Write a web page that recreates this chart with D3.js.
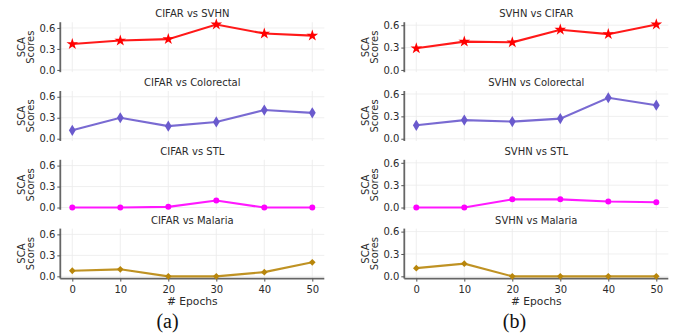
<!DOCTYPE html>
<html>
<head>
<meta charset="utf-8">
<script src="https://cdn.jsdelivr.net/npm/d3@7"></script>
<style>
  html, body { margin: 0; padding: 0; background: #fff; }
  svg { display: block; font-family: "DejaVu Sans", sans-serif; }
</style>
</head>
<body>
<svg id="chart" width="683" height="335"></svg>
<script>
// data
const epochs = [0, 10, 20, 30, 40, 50];
const yTicks = [0, 0.3, 0.6];

const cifarTitles = ["CIFAR vs SVHN", "CIFAR vs Colorectal", "CIFAR vs STL", "CIFAR vs Malaria"];
const svhnTitles = ["SVHN vs CIFAR", "SVHN vs Colorectal", "SVHN vs STL", "SVHN vs Malaria"];

const cifarSvhn = [0.37, 0.42, 0.44, 0.65, 0.52, 0.49];
const cifarColorectal = [0.12, 0.30, 0.18, 0.24, 0.41, 0.37];
const cifarStl = [0.0, 0.0, 0.01, 0.10, 0.0, 0.0];
const cifarMalaria = [0.08, 0.10, 0.0, 0.0, 0.06, 0.20];

const svhnCifar = [0.29, 0.38, 0.37, 0.54, 0.48, 0.61];
const svhnColorectal = [0.18, 0.25, 0.23, 0.27, 0.55, 0.45];
const svhnStl = [0.0, 0.0, 0.11, 0.11, 0.08, 0.07];
const svhnMalaria = [0.11, 0.17, 0.0, 0.0, 0.0, 0.0];

const rowColors = ["#ff0000", "#6a5acd", "#ff00ff", "#b8860b"];
const rowMarkers = ["star", "thin", "circle", "diamond"];

const svg = d3.select("#chart");
const textColor = "#2b2b2b";

const panelH = 50, rowStep = 68.8, firstTop = 22.2;

function markerPath(kind) {
  if (kind === "star") return d3.symbol(d3.symbolStar, 42)();
  if (kind === "circle") return d3.symbol(d3.symbolCircle, 28)();
  if (kind === "thin") return "M0,-5.6L3.4,0L0,5.6L-3.4,0Z";
  return "M0,-3.4L3.3,0L0,3.4L-3.3,0Z";
}

function drawColumn(x0, x1, titles, series, caption) {
  const xPad = (d3.max(epochs) - d3.min(epochs)) * 0.05;
  const x = d3.scaleLinear()
      .domain([d3.min(epochs) - xPad, d3.max(epochs) + xPad])
      .range([x0, x1]);
  // shared y for the column, matplotlib style 5% margins
  const yMax = d3.max(series, s => d3.max(s));
  const yPad = yMax * 0.05;

  series.forEach((vals, i) => {
    const top = firstTop + i * rowStep;
    const y = d3.scaleLinear().domain([-yPad, yMax + yPad]).range([top + panelH, top]);
    const g = svg.append("g");

    // grid
    g.selectAll(".gx").data(epochs).enter().append("line")
        .attr("x1", d => x(d)).attr("x2", d => x(d))
        .attr("y1", top).attr("y2", top + panelH)
        .attr("stroke", "#ebebeb").attr("stroke-width", 0.8);
    g.selectAll(".gy").data(yTicks).enter().append("line")
        .attr("x1", x0).attr("x2", x1)
        .attr("y1", d => y(d)).attr("y2", d => y(d))
        .attr("stroke", "#ebebeb").attr("stroke-width", 0.8);

    // left axis
    const ya = g.append("g")
        .attr("transform", "translate(" + x0 + ",0)")
        .call(d3.axisLeft(y).tickValues(yTicks).tickFormat(d3.format(".1f")).tickSize(3).tickPadding(2));
    ya.select(".domain").attr("stroke", "#666").attr("stroke-width", 1.8)
        .attr("d", "M0," + top + "V" + (top + panelH));
    ya.selectAll(".tick line").attr("stroke", "#555");
    ya.selectAll("text").attr("font-size", 10).attr("fill", textColor)
        .attr("font-family", "DejaVu Sans");

    if (i === series.length - 1) {
      const xa = g.append("g")
          .attr("transform", "translate(0," + (top + panelH) + ")")
          .call(d3.axisBottom(x).tickValues(epochs).tickSize(3).tickPadding(4));
      xa.select(".domain").attr("stroke", "#666").attr("stroke-width", 1.8)
          .attr("d", "M" + x0 + ",0H" + x1);
      xa.selectAll(".tick line").attr("stroke", "#555");
      xa.selectAll("text").attr("font-size", 10).attr("fill", textColor)
          .attr("font-family", "DejaVu Sans");

      svg.append("text")
          .attr("x", (x0 + x1) / 2).attr("y", top + panelH + 26.5)
          .attr("text-anchor", "middle").attr("font-size", 10.7).attr("fill", textColor)
          .text("# Epochs");
    }

    // title
    g.append("text")
        .attr("x", (x0 + x1) / 2).attr("y", top - 4.8)
        .attr("text-anchor", "middle").attr("font-size", 10).attr("fill", textColor)
        .text(titles[i]);

    // y label
    const cy = top + panelH / 2;
    [["SCA", x0 - 39.3], ["Scores", x0 - 29.5]].forEach(([t, lx]) => {
      g.append("text")
          .attr("transform", "translate(" + lx + "," + cy + ") rotate(-90)")
          .attr("text-anchor", "middle").attr("dy", "0.35em")
          .attr("font-size", 10).attr("fill", textColor)
          .text(t);
    });

    const pts = epochs.map((e, k) => [e, vals[k]]);
    g.append("path")
        .datum(pts)
        .attr("fill", "none")
        .attr("stroke", rowColors[i])
        .attr("stroke-width", 2.1)
        .attr("stroke-opacity", 0.9)
        .attr("d", d3.line().x(d => x(d[0])).y(d => y(d[1])));
    g.selectAll(".m").data(pts).enter().append("path")
        .attr("transform", d => "translate(" + x(d[0]) + "," + y(d[1]) + ")")
        .attr("d", markerPath(rowMarkers[i]))
        .attr("fill", rowColors[i]);
  });

  svg.append("text")
      .attr("x", caption.x).attr("y", 328)
      .attr("text-anchor", "middle")
      .attr("font-family", "'Liberation Serif', serif")
      .attr("font-size", 20).attr("fill", "#111")
      .text(caption.text);
}

drawColumn(60.3, 324.3, cifarTitles,
  [cifarSvhn, cifarColorectal, cifarStl, cifarMalaria], {x: 167.5, text: "(a)"});
drawColumn(404.3, 668.3, svhnTitles,
  [svhnCifar, svhnColorectal, svhnStl, svhnMalaria], {x: 514.5, text: "(b)"});
</script>
</body>
</html>
